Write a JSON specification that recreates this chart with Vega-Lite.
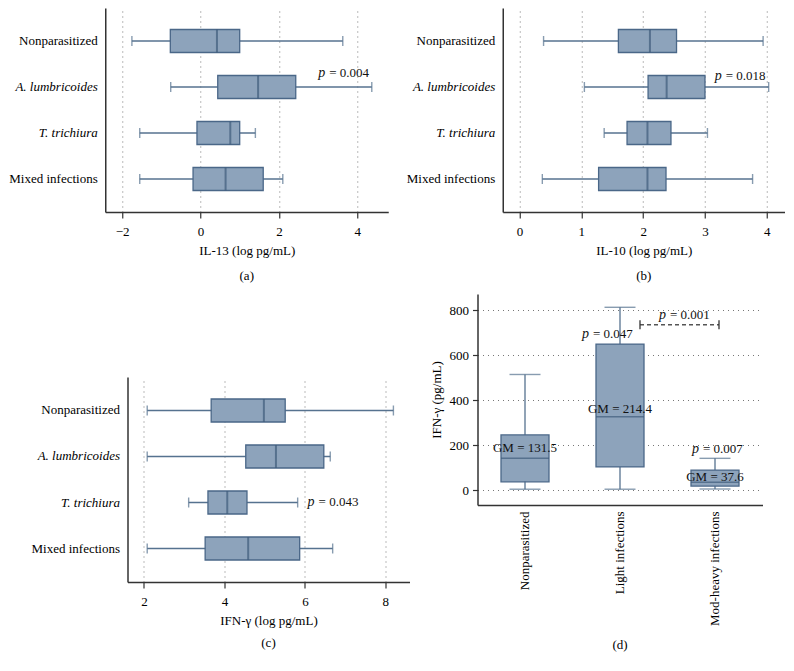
{
  "$schema": "https://vega.github.io/schema/vega-lite/v6.json",
  "padding": {"left": 8, "top": 8, "right": 0, "bottom": 0},
  "datasets": {
    "il13": [
      {"group": "Nonparasitized", "lower": -1.75, "q1": -0.77, "median": 0.42, "q3": 1.0, "upper": 3.63},
      {"group": "A. lumbricoides", "lower": -0.76, "q1": 0.44, "median": 1.47, "q3": 2.43, "upper": 4.37},
      {"group": "T. trichiura", "lower": -1.55, "q1": -0.09, "median": 0.76, "q3": 1.0, "upper": 1.40},
      {"group": "Mixed infections", "lower": -1.55, "q1": -0.19, "median": 0.64, "q3": 1.60, "upper": 2.10}
    ],
    "il10": [
      {"group": "Nonparasitized", "lower": 0.39, "q1": 1.60, "median": 2.11, "q3": 2.54, "upper": 3.94},
      {"group": "A. lumbricoides", "lower": 1.05, "q1": 2.08, "median": 2.38, "q3": 3.0, "upper": 4.03},
      {"group": "T. trichiura", "lower": 1.37, "q1": 1.74, "median": 2.07, "q3": 2.45, "upper": 3.04},
      {"group": "Mixed infections", "lower": 0.37, "q1": 1.28, "median": 2.07, "q3": 2.37, "upper": 3.77}
    ],
    "ifnlog": [
      {"group": "Nonparasitized", "lower": 2.08, "q1": 3.67, "median": 4.98, "q3": 5.51, "upper": 8.20},
      {"group": "A. lumbricoides", "lower": 2.08, "q1": 4.53, "median": 5.28, "q3": 6.47, "upper": 6.63},
      {"group": "T. trichiura", "lower": 3.11, "q1": 3.59, "median": 4.07, "q3": 4.56, "upper": 5.82},
      {"group": "Mixed infections", "lower": 2.08, "q1": 3.52, "median": 4.59, "q3": 5.87, "upper": 6.69}
    ],
    "ifn": [
      {"group": "Nonparasitized", "lower": 5, "q1": 38, "median": 142, "q3": 246, "upper": 514, "gm": "GM = 131.5", "gmy": 187},
      {"group": "Light infections", "lower": 5, "q1": 104, "median": 326, "q3": 649, "upper": 812, "gm": "GM = 214.4", "gmy": 361},
      {"group": "Mod-heavy infections", "lower": 6, "q1": 19, "median": 36, "q3": 90, "upper": 142, "gm": "GM = 37.6", "gmy": 60}
    ]
  },
  "config": {
    "font": "Liberation Serif",
    "view": {"stroke": null},
    "axis": {
      "labelFont": "Liberation Serif",
      "titleFont": "Liberation Serif",
      "labelFontSize": 13,
      "titleFontSize": 13,
      "titleFontWeight": "normal",
      "labelColor": "#000000",
      "titleColor": "#000000",
      "domainColor": "#333333",
      "domainWidth": 1.5,
      "tickColor": "#333333",
      "tickWidth": 1.2,
      "gridColor": "#555555",
      "gridDash": [1, 4],
      "gridWidth": 1,
      "gridOpacity": 0.8
    },
    "title": {"font": "Liberation Serif", "fontSize": 13, "fontWeight": "normal", "color": "#000000"},
    "text": {"font": "Liberation Serif", "fontSize": 13, "color": "#111111"}
  },
  "vconcat": [
    {
      "hconcat": [
        {
          "width": 283,
          "height": 204,
          "data": {"name": "il13"},
          "title": {"text": "(a)", "orient": "bottom", "offset": 13},
          "encoding": {
            "y": {
              "field": "group", "type": "nominal", "sort": null,
              "scale": {"paddingInner": 0, "paddingOuter": 0.217},
              "axis": {"title": null, "ticks": false, "labelPadding": 8, "grid": false,
                "labelFontStyle": {"condition": {"test": "datum.value == 'A. lumbricoides' || datum.value == 'T. trichiura'", "value": "italic"}, "value": "normal"}}
            }
          },
          "layer": [
            {
              "mark": {"type": "rule", "color": "#56728F", "strokeWidth": 1.3},
              "encoding": {
                "x": {"field": "lower", "type": "quantitative",
                  "scale": {"domain": [-2.43, 4.79], "nice": false, "zero": false},
                  "axis": {"title": "IL-13 (log pg/mL)", "values": [-2, 0, 2, 4], "format": "d", "tickSize": 6, "labelPadding": 7, "titlePadding": 6, "grid": true}},
                "x2": {"field": "upper"}
              }
            },
            {
              "mark": {"type": "bar", "size": 23, "fill": "#8DA3BB", "stroke": "#4A6788", "strokeWidth": 1.3},
              "encoding": {"x": {"field": "q1", "type": "quantitative"}, "x2": {"field": "q3"}}
            },
            {
              "mark": {"type": "tick", "orient": "vertical", "size": 23, "thickness": 2, "color": "#3F5B7A"},
              "encoding": {"x": {"field": "median", "type": "quantitative"}}
            },
            {
              "mark": {"type": "tick", "orient": "vertical", "size": 10, "thickness": 1.4, "color": "#56728F"},
              "encoding": {"x": {"field": "lower", "type": "quantitative"}}
            },
            {
              "mark": {"type": "tick", "orient": "vertical", "size": 10, "thickness": 1.4, "color": "#56728F"},
              "encoding": {"x": {"field": "upper", "type": "quantitative"}}
            },
            {
              "data": {"values": [{"group": "A. lumbricoides", "x": 3.18, "label": "= 0.004"}]},
              "mark": {"type": "text", "text": "p", "fontStyle": "italic", "align": "right", "baseline": "middle", "dy": -14, "fontSize": 14},
              "encoding": {"x": {"field": "x", "type": "quantitative"}, "y": {"field": "group", "type": "nominal", "sort": null}}
            },
            {
              "data": {"values": [{"group": "A. lumbricoides", "x": 3.18, "label": "= 0.004"}]},
              "mark": {"type": "text", "align": "left", "baseline": "middle", "dx": 4, "dy": -14},
              "encoding": {"x": {"field": "x", "type": "quantitative"}, "y": {"field": "group", "type": "nominal", "sort": null}, "text": {"field": "label"}}
            }
          ]
        },
        {
          "width": 282,
          "height": 204,
          "data": {"name": "il10"},
          "title": {"text": "(b)", "orient": "bottom", "offset": 13},
          "encoding": {
            "y": {
              "field": "group", "type": "nominal", "sort": null,
              "scale": {"paddingInner": 0, "paddingOuter": 0.217},
              "axis": {"title": null, "ticks": false, "labelPadding": 8, "grid": false,
                "labelFontStyle": {"condition": {"test": "datum.value == 'A. lumbricoides' || datum.value == 'T. trichiura'", "value": "italic"}, "value": "normal"}}
            }
          },
          "layer": [
            {
              "mark": {"type": "rule", "color": "#56728F", "strokeWidth": 1.3},
              "encoding": {
                "x": {"field": "lower", "type": "quantitative",
                  "scale": {"domain": [-0.27, 4.29], "nice": false, "zero": false},
                  "axis": {"title": "IL-10 (log pg/mL)", "values": [0, 1, 2, 3, 4], "format": "d", "tickSize": 6, "labelPadding": 7, "titlePadding": 6, "grid": true}},
                "x2": {"field": "upper"}
              }
            },
            {
              "mark": {"type": "bar", "size": 23, "fill": "#8DA3BB", "stroke": "#4A6788", "strokeWidth": 1.3},
              "encoding": {"x": {"field": "q1", "type": "quantitative"}, "x2": {"field": "q3"}}
            },
            {
              "mark": {"type": "tick", "orient": "vertical", "size": 23, "thickness": 2, "color": "#3F5B7A"},
              "encoding": {"x": {"field": "median", "type": "quantitative"}}
            },
            {
              "mark": {"type": "tick", "orient": "vertical", "size": 10, "thickness": 1.4, "color": "#56728F"},
              "encoding": {"x": {"field": "lower", "type": "quantitative"}}
            },
            {
              "mark": {"type": "tick", "orient": "vertical", "size": 10, "thickness": 1.4, "color": "#56728F"},
              "encoding": {"x": {"field": "upper", "type": "quantitative"}}
            },
            {
              "data": {"values": [{"group": "A. lumbricoides", "x": 3.27, "label": "= 0.018"}]},
              "mark": {"type": "text", "text": "p", "fontStyle": "italic", "align": "right", "baseline": "middle", "dy": -11, "fontSize": 14},
              "encoding": {"x": {"field": "x", "type": "quantitative"}, "y": {"field": "group", "type": "nominal", "sort": null}}
            },
            {
              "data": {"values": [{"group": "A. lumbricoides", "x": 3.27, "label": "= 0.018"}]},
              "mark": {"type": "text", "align": "left", "baseline": "middle", "dx": 4, "dy": -11},
              "encoding": {"x": {"field": "x", "type": "quantitative"}, "y": {"field": "group", "type": "nominal", "sort": null}, "text": {"field": "label"}}
            }
          ]
        }
      ],
      "spacing": 17.5
    },
    {
      "hconcat": [
        {
          "vconcat": [
            {
              "width": 10,
              "height": 83,
              "data": {"values": []},
              "mark": {"type": "point", "opacity": 0}
            },
            {
              "width": 282,
              "height": 205,
              "data": {"name": "ifnlog"},
              "title": {"text": "(c)", "orient": "bottom", "offset": 10},
              "encoding": {
                "y": {
                  "field": "group", "type": "nominal", "sort": null,
                  "scale": {"paddingInner": 0, "paddingOuter": 0.228},
                  "axis": {"title": null, "ticks": false, "labelPadding": 8, "grid": false,
                    "labelFontStyle": {"condition": {"test": "datum.value == 'A. lumbricoides' || datum.value == 'T. trichiura'", "value": "italic"}, "value": "normal"}}
                }
              },
              "layer": [
                {
                  "mark": {"type": "rule", "color": "#56728F", "strokeWidth": 1.3},
                  "encoding": {
                    "x": {"field": "lower", "type": "quantitative",
                      "scale": {"domain": [1.59, 8.6], "nice": false, "zero": false},
                      "axis": {"title": "IFN-γ (log pg/mL)", "values": [2, 4, 6, 8], "format": "d", "tickSize": 6, "labelPadding": 7, "titlePadding": 6, "grid": true}},
                    "x2": {"field": "upper"}
                  }
                },
                {
                  "mark": {"type": "bar", "size": 23, "fill": "#8DA3BB", "stroke": "#4A6788", "strokeWidth": 1.3},
                  "encoding": {"x": {"field": "q1", "type": "quantitative"}, "x2": {"field": "q3"}}
                },
                {
                  "mark": {"type": "tick", "orient": "vertical", "size": 23, "thickness": 2, "color": "#3F5B7A"},
                  "encoding": {"x": {"field": "median", "type": "quantitative"}}
                },
                {
                  "mark": {"type": "tick", "orient": "vertical", "size": 10, "thickness": 1.4, "color": "#56728F"},
                  "encoding": {"x": {"field": "lower", "type": "quantitative"}}
                },
                {
                  "mark": {"type": "tick", "orient": "vertical", "size": 10, "thickness": 1.4, "color": "#56728F"},
                  "encoding": {"x": {"field": "upper", "type": "quantitative"}}
                },
                {
                  "data": {"values": [{"group": "T. trichiura", "x": 6.24, "label": "= 0.043"}]},
                  "mark": {"type": "text", "text": "p", "fontStyle": "italic", "align": "right", "baseline": "middle", "dy": -1, "fontSize": 14},
                  "encoding": {"x": {"field": "x", "type": "quantitative"}, "y": {"field": "group", "type": "nominal", "sort": null}}
                },
                {
                  "data": {"values": [{"group": "T. trichiura", "x": 6.24, "label": "= 0.043"}]},
                  "mark": {"type": "text", "align": "left", "baseline": "middle", "dx": 4, "dy": -1},
                  "encoding": {"x": {"field": "x", "type": "quantitative"}, "y": {"field": "group", "type": "nominal", "sort": null}, "text": {"field": "label"}}
                }
              ]
            }
          ],
          "spacing": 0
        },
        {
          "width": 285,
          "height": 211,
          "data": {"name": "ifn"},
          "title": {"text": "(d)", "orient": "bottom", "offset": 14},
          "encoding": {
            "x": {
              "field": "group", "type": "nominal", "sort": null,
              "scale": {"paddingInner": 0, "paddingOuter": 0},
              "axis": {"title": null, "ticks": false, "labelAngle": -90, "labelPadding": 6, "grid": false}
            }
          },
          "layer": [
            {
              "mark": {"type": "rule", "color": "#56728F", "strokeWidth": 1.3},
              "encoding": {
                "y": {"field": "lower", "type": "quantitative",
                  "scale": {"domain": [-65, 871], "nice": false, "zero": false},
                  "axis": {"title": "IFN-γ (pg/mL)", "values": [0, 200, 400, 600, 800], "tickSize": 5, "labelPadding": 4, "titlePadding": 6, "grid": true}},
                "y2": {"field": "upper"}
              }
            },
            {
              "mark": {"type": "bar", "size": 48, "fill": "#8DA3BB", "stroke": "#4A6788", "strokeWidth": 1.3},
              "encoding": {"y": {"field": "q1", "type": "quantitative"}, "y2": {"field": "q3"}}
            },
            {
              "mark": {"type": "tick", "size": 48, "thickness": 1.5, "color": "#3F5B7A"},
              "encoding": {"y": {"field": "median", "type": "quantitative"}}
            },
            {
              "mark": {"type": "tick", "size": 31, "thickness": 1.4, "color": "#56728F"},
              "encoding": {"y": {"field": "lower", "type": "quantitative"}}
            },
            {
              "mark": {"type": "tick", "size": 31, "thickness": 1.4, "color": "#56728F"},
              "encoding": {"y": {"field": "upper", "type": "quantitative"}}
            },
            {
              "mark": {"type": "text", "baseline": "middle", "align": "center"},
              "encoding": {"y": {"field": "gmy", "type": "quantitative"}, "text": {"field": "gm"}}
            },
            {
              "data": {"values": [{"group": "Light infections", "y": 695, "label": "= 0.047"}]},
              "mark": {"type": "text", "text": "p", "fontStyle": "italic", "align": "right", "baseline": "middle", "dx": -31, "fontSize": 14},
              "encoding": {"x": {"field": "group", "type": "nominal", "sort": null}, "y": {"field": "y", "type": "quantitative"}}
            },
            {
              "data": {"values": [{"group": "Light infections", "y": 695, "label": "= 0.047"}]},
              "mark": {"type": "text", "align": "left", "baseline": "middle", "dx": -27},
              "encoding": {"x": {"field": "group", "type": "nominal", "sort": null}, "y": {"field": "y", "type": "quantitative"}, "text": {"field": "label"}}
            },
            {
              "data": {"values": [{"group": "Mod-heavy infections", "y": 182, "label": "= 0.007"}]},
              "mark": {"type": "text", "text": "p", "fontStyle": "italic", "align": "right", "baseline": "middle", "dx": -16, "fontSize": 14},
              "encoding": {"x": {"field": "group", "type": "nominal", "sort": null}, "y": {"field": "y", "type": "quantitative"}}
            },
            {
              "data": {"values": [{"group": "Mod-heavy infections", "y": 182, "label": "= 0.007"}]},
              "mark": {"type": "text", "align": "left", "baseline": "middle", "dx": -12},
              "encoding": {"x": {"field": "group", "type": "nominal", "sort": null}, "y": {"field": "y", "type": "quantitative"}, "text": {"field": "label"}}
            },
            {
              "data": {"values": [{"group": "Mod-heavy infections", "y": 779, "label": "= 0.001"}]},
              "mark": {"type": "text", "text": "p", "fontStyle": "italic", "align": "right", "baseline": "middle", "dx": -49, "fontSize": 14},
              "encoding": {"x": {"field": "group", "type": "nominal", "sort": null}, "y": {"field": "y", "type": "quantitative"}}
            },
            {
              "data": {"values": [{"group": "Mod-heavy infections", "y": 779, "label": "= 0.001"}]},
              "mark": {"type": "text", "align": "left", "baseline": "middle", "dx": -45},
              "encoding": {"x": {"field": "group", "type": "nominal", "sort": null}, "y": {"field": "y", "type": "quantitative"}, "text": {"field": "label"}}
            },
            {
              "data": {"values": [{"from": "Light infections", "to": "Mod-heavy infections", "y": 735}]},
              "mark": {"type": "rule", "color": "#555555", "strokeWidth": 1.5, "strokeDash": [4, 3], "xOffset": 20, "x2Offset": 4},
              "encoding": {"x": {"field": "from", "type": "nominal", "sort": null}, "x2": {"field": "to"}, "y": {"field": "y", "type": "quantitative"}}
            },
            {
              "data": {"values": [{"group": "Light infections", "ylo": 715, "yhi": 755}]},
              "mark": {"type": "rule", "color": "#333333", "strokeWidth": 1.3, "xOffset": 20},
              "encoding": {"x": {"field": "group", "type": "nominal", "sort": null}, "y": {"field": "ylo", "type": "quantitative"}, "y2": {"field": "yhi"}}
            },
            {
              "data": {"values": [{"group": "Mod-heavy infections", "ylo": 715, "yhi": 755}]},
              "mark": {"type": "rule", "color": "#333333", "strokeWidth": 1.3, "xOffset": 4},
              "encoding": {"x": {"field": "group", "type": "nominal", "sort": null}, "y": {"field": "ylo", "type": "quantitative"}, "y2": {"field": "yhi"}}
            }
          ]
        }
      ],
      "spacing": 20
    }
  ],
  "spacing": 11,
  "center": true
}
